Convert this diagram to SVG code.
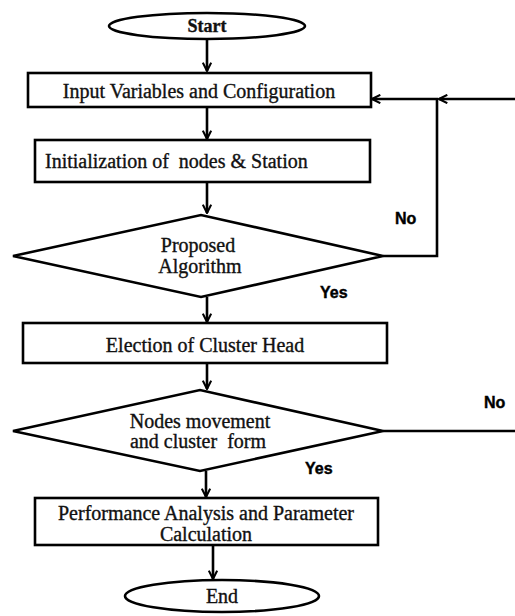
<svg xmlns="http://www.w3.org/2000/svg" width="515" height="616" viewBox="0 0 515 616">
<defs>
<style>
.shape{fill:#fff;stroke:#000;stroke-width:2.6}
.t{font-family:"Liberation Serif","Times New Roman",serif;font-size:20px;fill:#111;stroke:#111;stroke-width:0.35;text-anchor:middle}
.lbl{font-family:"Liberation Sans",Arial,sans-serif;font-size:16px;font-weight:bold;fill:#000;stroke:#000;stroke-width:0.4}
.conn{fill:none;stroke:#000;stroke-width:2.6}
</style>
<marker id="ah" viewBox="0 0 10 10" refX="9" refY="5" markerWidth="4" markerHeight="4" orient="auto" markerUnits="strokeWidth">
<path d="M1,1 L9,5 L1,9" fill="none" stroke="#000" stroke-width="2"/>
</marker>
</defs>
<rect width="515" height="616" fill="#fff"/>
<g id="connectors">
<line class="conn" x1="207" y1="39" x2="207" y2="71" marker-end="url(#ah)"/>
<line class="conn" x1="207" y1="107" x2="207" y2="139" marker-end="url(#ah)"/>
<line class="conn" x1="207" y1="182" x2="207" y2="213" marker-end="url(#ah)"/>
<line class="conn" x1="207" y1="297" x2="207" y2="322" marker-end="url(#ah)"/>
<line class="conn" x1="207" y1="363" x2="207" y2="389" marker-end="url(#ah)"/>
<line class="conn" x1="206" y1="471" x2="206" y2="497" marker-end="url(#ah)"/>
<line class="conn" x1="213" y1="545" x2="213" y2="579" marker-end="url(#ah)"/>
<polyline class="conn" points="383,256 437,256 437,99 372,99" marker-end="url(#ah)"/>
<line class="conn" x1="515" y1="99" x2="439" y2="99" marker-end="url(#ah)"/>
<line class="conn" x1="383" y1="431" x2="515" y2="431"/>
<text class="lbl" x="395" y="224">No</text>
<text class="lbl" x="320" y="298">Yes</text>
<text class="lbl" x="484" y="408">No</text>
<text class="lbl" x="305" y="474">Yes</text>
</g>
<g id="start">
<ellipse class="shape" cx="207" cy="26" rx="98" ry="13"/>
<text class="t" x="207" y="32" style="font-weight:bold;font-size:18px">Start</text>
</g>
<g id="input">
<rect class="shape" x="28" y="73" width="343" height="34"/>
<text class="t" x="199" y="98">Input Variables and Configuration</text>
</g>
<g id="init">
<rect class="shape" x="35" y="140" width="335" height="42"/>
<text class="t" x="45" y="168" style="text-anchor:start;white-space:pre" xml:space="preserve">Initialization of  nodes &amp; Station</text>
</g>
<g id="proposed">
<polygon class="shape" points="13,256 201,215 383,256 201,297"/>
<text class="t" x="198" y="252">Proposed</text>
<text class="t" x="200" y="273">Algorithm</text>
</g>
<g id="election">
<rect class="shape" x="23" y="323" width="364" height="40"/>
<text class="t" x="205" y="352">Election of Cluster Head</text>
</g>
<g id="movement">
<polygon class="shape" points="13,431 200,390 383,431 200,471"/>
<text class="t" x="200" y="428">Nodes movement</text>
<text class="t" x="198" y="448" xml:space="preserve">and cluster  form</text>
</g>
<g id="performance">
<rect class="shape" x="35" y="498" width="343" height="47"/>
<text class="t" x="206" y="520">Performance Analysis and Parameter</text>
<text class="t" x="206" y="541">Calculation</text>
</g>
<g id="end">
<ellipse class="shape" cx="222" cy="596" rx="97" ry="16"/>
<text class="t" x="222" y="603">End</text>
</g>
</svg>
